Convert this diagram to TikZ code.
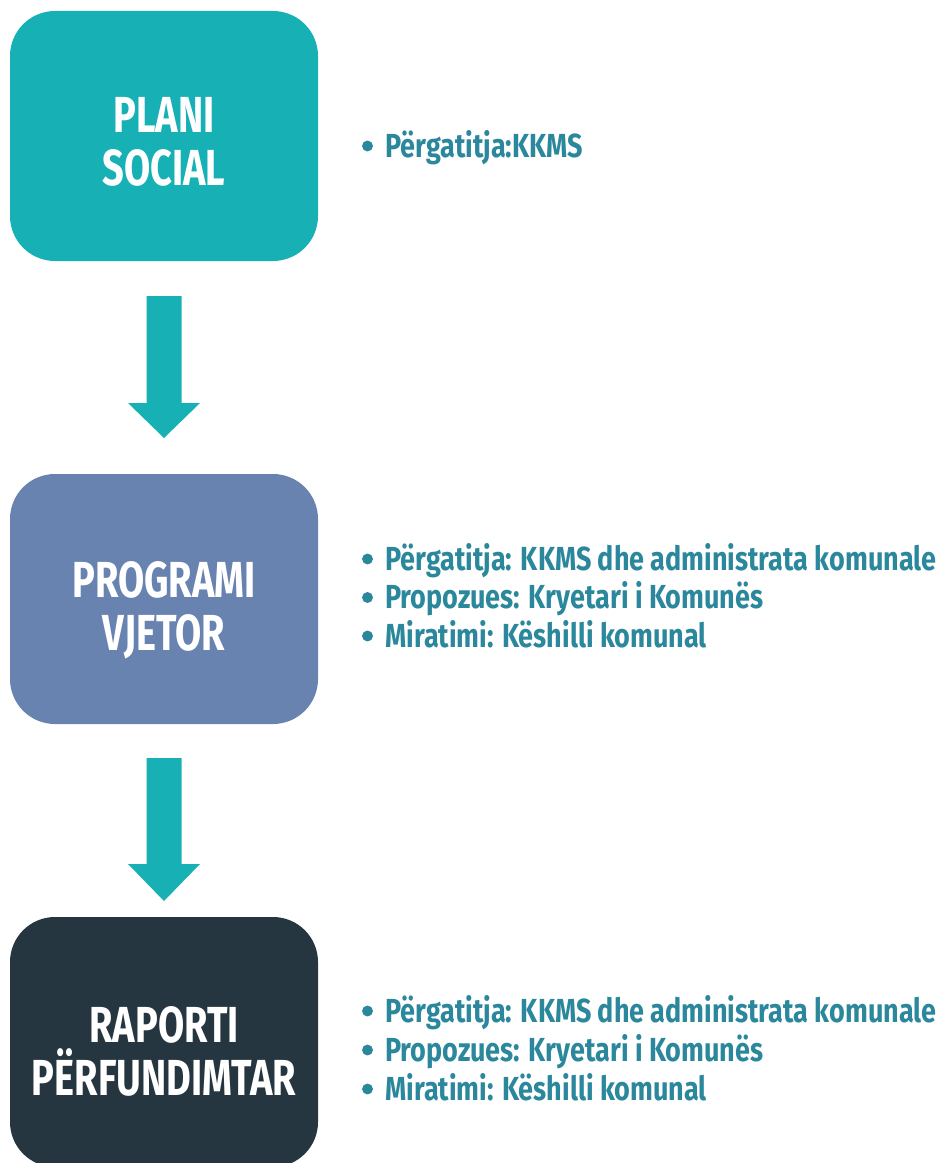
\documentclass[tikz,border=0pt]{standalone}
\usepackage{fontspec}
\setmainfont{Fira Sans}
\newfontfamily\osw{Fira Sans}[FakeStretch=0.75]
\newfontfamily\oswi{Fira Sans}[FakeStretch=0.81]
\usetikzlibrary{calc}
\definecolor{tealc}{HTML}{17B1B5}
\definecolor{bluec}{HTML}{6883B0}
\definecolor{darkc}{HTML}{263640}
\definecolor{textc}{HTML}{2A879C}
\begin{document}
\begin{tikzpicture}[x=0.75pt,y=-0.75pt,
  stage/.style={rounded corners=33.75pt, minimum width=231pt, minimum height=187.5pt, inner sep=0pt, outer sep=0pt, anchor=north west},
  title/.style={text=white, font=\osw\bfseries\fontsize{38}{38}\selectfont, inner sep=0pt, anchor=base},
  item/.style={text=textc, font=\oswi\bfseries\fontsize{25}{25}\selectfont, inner sep=0pt, anchor=base west},
  dot/.style={fill=textc},
  flow/.style={fill=tealc}]
\useasboundingbox (0,0) rectangle (940,1163);
% stages
\node[stage, fill=tealc] (p) at (10,11) {};
\node[stage, fill=bluec] (v) at (10,474) {};
\node[stage, fill=darkc] (r) at (10,917) {};
% titles
\node[title] (p1) at ($(p.north)+(0,121)$) {PLANI};
\node[title] (p2) at ($(p.north)+(0,174)$) {SOCIAL};
\node[title] (v1) at ($(v.north)+(0,123)$) {PROGRAMI};
\node[title] (v2) at ($(v.north)+(0,176)$) {VJETOR};
\node[title] (r1) at ($(r.north)+(0,125)$) {RAPORTI};
\node[title] (r2) at ($(r.north)+(0,178)$) {PËRFUNDIMTAR};
% arrows
\fill[flow] ($(p.south)+(-17.5,35)$) -- ($(p.south)+(17.5,35)$) -- ($(v.north)+(17.5,-71)$) -- ($(v.north)+(36,-71)$) -- ($(v.north)+(0,-36)$) -- ($(v.north)+(-36,-71)$) -- ($(v.north)+(-17.5,-71)$) -- cycle;
\fill[flow] ($(v.south)+(-17.5,34)$) -- ($(v.south)+(17.5,34)$) -- ($(r.north)+(17.5,-53)$) -- ($(r.north)+(36,-53)$) -- ($(r.north)+(0,-16)$) -- ($(r.north)+(-36,-53)$) -- ($(r.north)+(-17.5,-53)$) -- cycle;
% items
\node[item] (a1) at (385,157) {Përgatitja:KKMS};
\node[item] (b1) at (385,570) {Përgatitja: KKMS dhe administrata komunale};
\node[item] (b2) at (385,608.5) {Propozues: Kryetari i Komunës};
\node[item] (b3) at (385,647) {Miratimi: Këshilli komunal};
\node[item] (c1) at (385,1022) {Përgatitja: KKMS dhe administrata komunale};
\node[item] (c2) at (385,1061) {Propozues: Kryetari i Komunës};
\node[item] (c3) at (385,1100) {Miratimi: Këshilli komunal};
% bullets
\foreach \n in {a1,b1,b2,b3,c1,c2,c3}
  \fill[dot] ($(\n.base west)+(-17.5,-11)$) circle[radius=4.1pt];
\end{tikzpicture}
\end{document}
